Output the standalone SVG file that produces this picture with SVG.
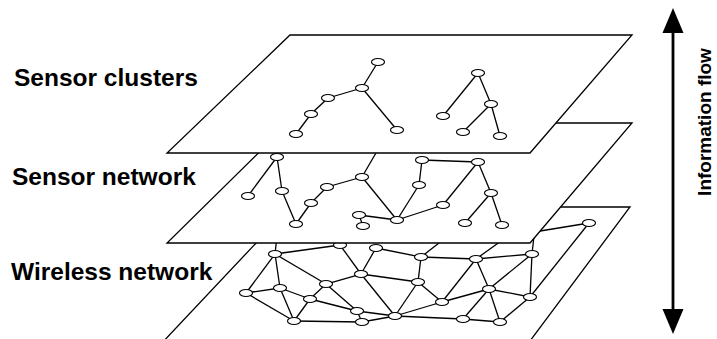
<svg xmlns="http://www.w3.org/2000/svg" width="717" height="339" viewBox="0 0 717 339">
<defs>
<style>
.pl{fill:#fff;stroke:#000;stroke-width:1.3;stroke-linejoin:miter}
.e line{stroke:#000;stroke-width:1.3}
.n ellipse{fill:#fff;stroke:#000;stroke-width:1.1}
.lb{font-family:"Liberation Sans",Arial,sans-serif;font-weight:bold;font-size:24.5px;fill:#000}
.fl{font-family:"Liberation Sans",Arial,sans-serif;font-weight:bold;font-size:19px;fill:#000}
</style>
<marker id="ah" viewBox="0 0 20 24" refX="2" refY="10" markerWidth="20" markerHeight="24" markerUnits="userSpaceOnUse" orient="auto">
<polygon points="0,0 24,10 0,20" fill="#000"/>
</marker>
</defs>
<rect width="717" height="339" fill="#fff"/>

<!-- Bottom layer: wireless network -->
<polygon id="plane-wireless" class="pl" points="290,207 630,207 527,345 160,345"/>
<g id="connectors-wireless" class="e">
<line x1="275" y1="254" x2="340" y2="245"/>
<line x1="275" y1="254" x2="277" y2="236"/>
<line x1="275" y1="254" x2="246" y2="293"/>
<line x1="275" y1="254" x2="280" y2="288"/>
<line x1="275" y1="254" x2="326" y2="284"/>
<line x1="246" y1="293" x2="280" y2="288"/>
<line x1="246" y1="293" x2="294" y2="321"/>
<line x1="280" y1="288" x2="310" y2="299"/>
<line x1="280" y1="288" x2="294" y2="321"/>
<line x1="310" y1="299" x2="294" y2="321"/>
<line x1="310" y1="299" x2="326" y2="284"/>
<line x1="310" y1="299" x2="357" y2="311"/>
<line x1="326" y1="284" x2="361" y2="274"/>
<line x1="326" y1="284" x2="357" y2="311"/>
<line x1="361" y1="274" x2="340" y2="245"/>
<line x1="361" y1="274" x2="376" y2="248"/>
<line x1="361" y1="274" x2="418" y2="282"/>
<line x1="361" y1="274" x2="395" y2="316"/>
<line x1="357" y1="311" x2="362" y2="322"/>
<line x1="357" y1="311" x2="395" y2="316"/>
<line x1="362" y1="322" x2="294" y2="321"/>
<line x1="362" y1="322" x2="395" y2="316"/>
<line x1="376" y1="248" x2="421" y2="257"/>
<line x1="421" y1="257" x2="448" y2="236"/>
<line x1="421" y1="257" x2="418" y2="282"/>
<line x1="421" y1="257" x2="476" y2="259"/>
<line x1="418" y1="282" x2="395" y2="316"/>
<line x1="418" y1="282" x2="442" y2="302"/>
<line x1="395" y1="316" x2="442" y2="302"/>
<line x1="395" y1="316" x2="463" y2="319"/>
<line x1="442" y1="302" x2="476" y2="259"/>
<line x1="442" y1="302" x2="489" y2="289"/>
<line x1="476" y1="259" x2="508" y2="236"/>
<line x1="476" y1="259" x2="489" y2="289"/>
<line x1="476" y1="259" x2="532" y2="254"/>
<line x1="489" y1="289" x2="463" y2="319"/>
<line x1="489" y1="289" x2="500" y2="322"/>
<line x1="489" y1="289" x2="530" y2="297"/>
<line x1="489" y1="289" x2="532" y2="254"/>
<line x1="463" y1="319" x2="500" y2="322"/>
<line x1="500" y1="322" x2="530" y2="297"/>
<line x1="530" y1="297" x2="532" y2="254"/>
<line x1="532" y1="254" x2="534" y2="236"/>
<line x1="530" y1="297" x2="589" y2="223"/>
<line x1="589" y1="223" x2="528" y2="233"/>
</g>
<g id="w1" class="n"><ellipse cx="275" cy="254" rx="6.5" ry="3.5"/></g>
<g id="w2" class="n"><ellipse cx="246" cy="293" rx="6.5" ry="3.5"/></g>
<g id="w3" class="n"><ellipse cx="280" cy="288" rx="6.5" ry="3.5"/></g>
<g id="w4" class="n"><ellipse cx="310" cy="299" rx="6.5" ry="3.5"/></g>
<g id="w5" class="n"><ellipse cx="326" cy="284" rx="6.5" ry="3.5"/></g>
<g id="w6" class="n"><ellipse cx="361" cy="274" rx="6.5" ry="3.5"/></g>
<g id="w7" class="n"><ellipse cx="357" cy="311" rx="6.5" ry="3.5"/></g>
<g id="w8" class="n"><ellipse cx="362" cy="322" rx="6.5" ry="3.5"/></g>
<g id="w9" class="n"><ellipse cx="294" cy="321" rx="6.5" ry="3.5"/></g>
<g id="w10" class="n"><ellipse cx="340" cy="245" rx="6.5" ry="3.5"/></g>
<g id="w11" class="n"><ellipse cx="376" cy="248" rx="6.5" ry="3.5"/></g>
<g id="w12" class="n"><ellipse cx="421" cy="257" rx="6.5" ry="3.5"/></g>
<g id="w13" class="n"><ellipse cx="418" cy="282" rx="6.5" ry="3.5"/></g>
<g id="w14" class="n"><ellipse cx="395" cy="316" rx="6.5" ry="3.5"/></g>
<g id="w15" class="n"><ellipse cx="442" cy="302" rx="6.5" ry="3.5"/></g>
<g id="w16" class="n"><ellipse cx="476" cy="259" rx="6.5" ry="3.5"/></g>
<g id="w17" class="n"><ellipse cx="489" cy="289" rx="6.5" ry="3.5"/></g>
<g id="w18" class="n"><ellipse cx="463" cy="319" rx="6.5" ry="3.5"/></g>
<g id="w19" class="n"><ellipse cx="500" cy="322" rx="6.5" ry="3.5"/></g>
<g id="w20" class="n"><ellipse cx="530" cy="297" rx="6.5" ry="3.5"/></g>
<g id="w21" class="n"><ellipse cx="532" cy="254" rx="6.5" ry="3.5"/></g>
<g id="w22" class="n"><ellipse cx="589" cy="223" rx="6.5" ry="3.5"/></g>

<!-- Middle layer: sensor network -->
<polygon id="plane-sensor-network" class="pl" points="289,123 632,123 530,243 167,243"/>
<g id="connectors-sensor-network" class="e">
<line x1="277" y1="157" x2="248" y2="196"/>
<line x1="277" y1="157" x2="282" y2="191"/>
<line x1="282" y1="191" x2="296" y2="224"/>
<line x1="296" y1="224" x2="311" y2="203"/>
<line x1="311" y1="203" x2="327" y2="187"/>
<line x1="327" y1="187" x2="362" y2="177"/>
<line x1="362" y1="177" x2="380" y2="146"/>
<line x1="362" y1="177" x2="397" y2="220"/>
<line x1="359" y1="215" x2="363" y2="226"/>
<line x1="359" y1="215" x2="397" y2="220"/>
<line x1="397" y1="220" x2="419" y2="185"/>
<line x1="419" y1="185" x2="422" y2="160"/>
<line x1="422" y1="160" x2="478" y2="162"/>
<line x1="478" y1="162" x2="443" y2="205"/>
<line x1="443" y1="205" x2="397" y2="220"/>
<line x1="478" y1="162" x2="491" y2="193"/>
<line x1="491" y1="193" x2="465" y2="223"/>
<line x1="491" y1="193" x2="502" y2="225"/>
</g>
<g id="s1" class="n"><ellipse cx="277" cy="157" rx="6.5" ry="3.5"/></g>
<g id="s2" class="n"><ellipse cx="248" cy="196" rx="6.5" ry="3.5"/></g>
<g id="s3" class="n"><ellipse cx="282" cy="191" rx="6.5" ry="3.5"/></g>
<g id="s4" class="n"><ellipse cx="296" cy="224" rx="6.5" ry="3.5"/></g>
<g id="s5" class="n"><ellipse cx="311" cy="203" rx="6.5" ry="3.5"/></g>
<g id="s6" class="n"><ellipse cx="327" cy="187" rx="6.5" ry="3.5"/></g>
<g id="s7" class="n"><ellipse cx="362" cy="177" rx="6.5" ry="3.5"/></g>
<g id="s8" class="n"><ellipse cx="359" cy="215" rx="6.5" ry="3.5"/></g>
<g id="s9" class="n"><ellipse cx="363" cy="226" rx="6.5" ry="3.5"/></g>
<g id="s10" class="n"><ellipse cx="397" cy="220" rx="6.5" ry="3.5"/></g>
<g id="s11" class="n"><ellipse cx="419" cy="185" rx="6.5" ry="3.5"/></g>
<g id="s12" class="n"><ellipse cx="422" cy="160" rx="6.5" ry="3.5"/></g>
<g id="s13" class="n"><ellipse cx="478" cy="162" rx="6.5" ry="3.5"/></g>
<g id="s14" class="n"><ellipse cx="443" cy="205" rx="6.5" ry="3.5"/></g>
<g id="s15" class="n"><ellipse cx="491" cy="193" rx="6.5" ry="3.5"/></g>
<g id="s16" class="n"><ellipse cx="465" cy="223" rx="6.5" ry="3.5"/></g>
<g id="s17" class="n"><ellipse cx="502" cy="225" rx="6.5" ry="3.5"/></g>

<!-- Top layer: sensor clusters -->
<polygon id="plane-sensor-clusters" class="pl" points="290,35 632,35 530,153 167,153"/>
<g id="connectors-sensor-clusters" class="e">
<line x1="378" y1="62" x2="362" y2="88"/>
<line x1="362" y1="88" x2="328" y2="98"/>
<line x1="328" y1="98" x2="311" y2="114"/>
<line x1="311" y1="114" x2="296" y2="134"/>
<line x1="362" y1="88" x2="397" y2="130"/>
<line x1="478" y1="73" x2="443" y2="116"/>
<line x1="478" y1="73" x2="491" y2="104"/>
<line x1="491" y1="104" x2="463" y2="132"/>
<line x1="491" y1="104" x2="500" y2="136"/>
</g>
<g id="c1" class="n"><ellipse cx="378" cy="62" rx="6.5" ry="3.5"/></g>
<g id="c2" class="n"><ellipse cx="362" cy="88" rx="6.5" ry="3.5"/></g>
<g id="c3" class="n"><ellipse cx="328" cy="98" rx="6.5" ry="3.5"/></g>
<g id="c4" class="n"><ellipse cx="311" cy="114" rx="6.5" ry="3.5"/></g>
<g id="c5" class="n"><ellipse cx="296" cy="134" rx="6.5" ry="3.5"/></g>
<g id="c6" class="n"><ellipse cx="397" cy="130" rx="6.5" ry="3.5"/></g>
<g id="c7" class="n"><ellipse cx="478" cy="73" rx="6.5" ry="3.5"/></g>
<g id="c8" class="n"><ellipse cx="443" cy="116" rx="6.5" ry="3.5"/></g>
<g id="c9" class="n"><ellipse cx="491" cy="104" rx="6.5" ry="3.5"/></g>
<g id="c10" class="n"><ellipse cx="463" cy="132" rx="6.5" ry="3.5"/></g>
<g id="c11" class="n"><ellipse cx="500" cy="136" rx="6.5" ry="3.5"/></g>

<!-- Labels -->
<text class="lb" x="14" y="86">Sensor clusters</text>
<text class="lb" x="12" y="185">Sensor network</text>
<text class="lb" x="11" y="280">Wireless network</text>

<!-- Information flow arrow -->
<g id="info-flow">
<line x1="673" y1="30" x2="673" y2="312" stroke="#000" stroke-width="2.8"/>
<polygon points="673,8 662.5,33 683.5,33" fill="#000"/>
<polygon points="673,334 662.5,309 683.5,309" fill="#000"/>
<text class="fl" transform="translate(711,122) rotate(-90)" text-anchor="middle">Information flow</text>
</g>
</svg>
